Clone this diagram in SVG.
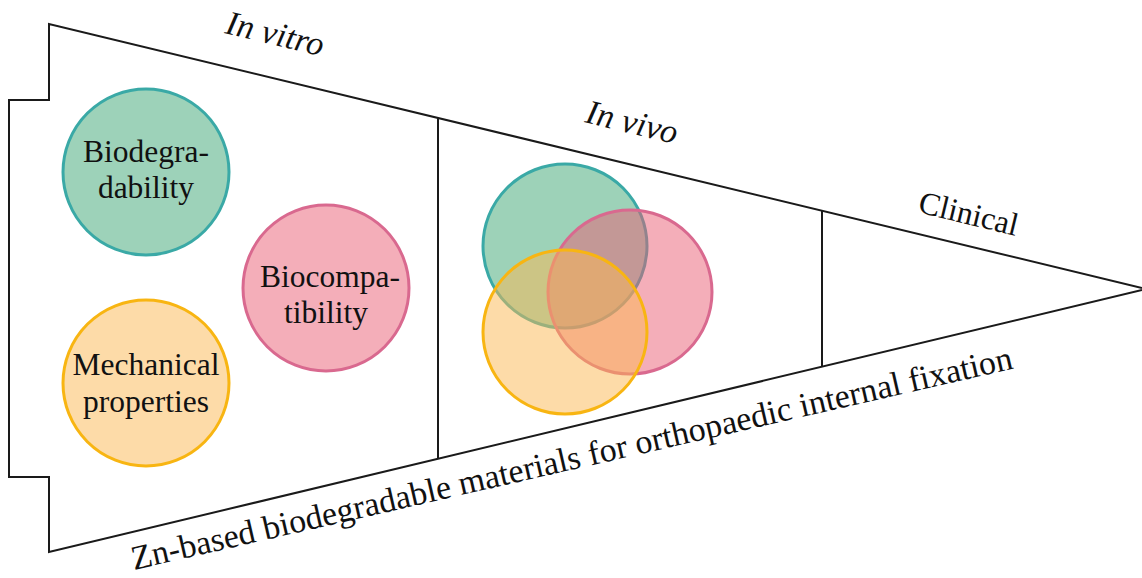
<svg xmlns="http://www.w3.org/2000/svg" width="1142" height="578" viewBox="0 0 1142 578">
<style>
.ln{fill:none;stroke:#1a1a1a;stroke-width:2;stroke-linejoin:miter}
.t{font-family:"Liberation Serif","Times New Roman",serif;fill:#111}
.c{font-size:31.5px;text-anchor:middle}
.lab{font-size:32px}
.it{font-style:italic;font-size:34px}
.g{fill:#9dd2b9;stroke:#3aa9a6;stroke-width:3}
.p{fill:#f4aeb9;stroke:#d9698f;stroke-width:3}
.o{fill:#fddba8;stroke:#f8b512;stroke-width:3}
.gv{fill:#3ba571;fill-opacity:0.5;stroke:#3aa9a6;stroke-width:3}
.pv{fill:#e95d73;fill-opacity:0.5;stroke:#d9698f;stroke-width:3}
.ov{fill:#fbb751;fill-opacity:0.5;stroke:#f8b512;stroke-width:3}
</style>
<rect width="1142" height="578" fill="#fff"/>
<g id="funnel">
<path class="ln" d="M1142,288 L49,24 L49,100 L9,100 L9,477 L49,477 L49,552 L1142,290"/>
<line class="ln" x1="438" y1="118" x2="438" y2="459"/>
<line class="ln" x1="822" y1="211" x2="822" y2="367"/>
</g>
<g id="biodegradability">
<circle class="g" cx="146" cy="172" r="83"/>
<text class="t c" x="146" y="162">Biodegra-</text>
<text class="t c" x="146" y="198">dability</text>
</g>
<g id="biocompatibility">
<circle class="p" cx="326" cy="288" r="83"/>
<text class="t c" x="330" y="287">Biocompa-</text>
<text class="t c" x="326" y="323">tibility</text>
</g>
<g id="mechanical">
<circle class="o" cx="146" cy="383" r="83"/>
<text class="t c" x="146" y="375">Mechanical</text>
<text class="t c" x="146" y="412">properties</text>
</g>
<g id="invivo-venn">
<circle class="gv" cx="565" cy="246" r="82"/>
<circle class="pv" cx="630" cy="292" r="82"/>
<circle class="ov" cx="565" cy="332" r="82"/>
</g>
<g id="labels">
<text class="t it" transform="translate(224,33) rotate(13.4)">In vitro</text>
<text class="t it" transform="translate(584,122) rotate(13.6)">In vivo</text>
<text class="t lab" transform="translate(917,212) rotate(13.6)">Clinical</text>
<text class="t" font-size="34" transform="translate(134,570) rotate(-12.9)" textLength="903" lengthAdjust="spacingAndGlyphs">Zn-based biodegradable materials for orthopaedic internal fixation</text>
</g>
</svg>
